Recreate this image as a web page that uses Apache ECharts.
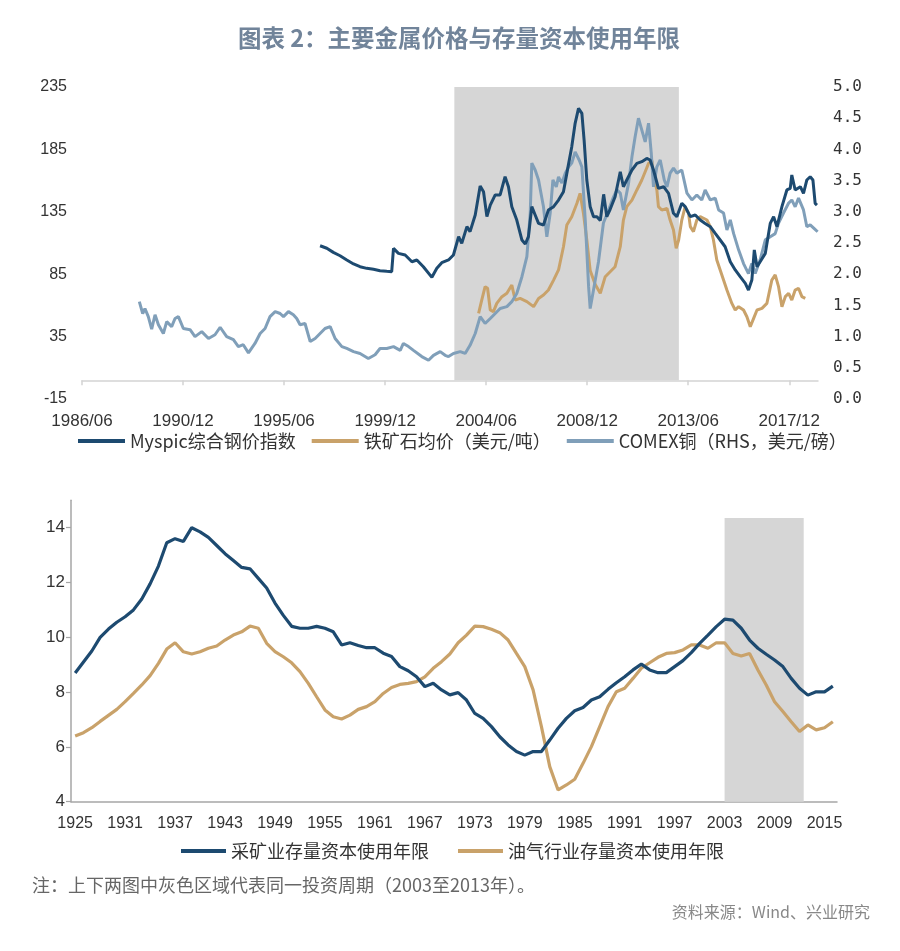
<!DOCTYPE html>
<html><head><meta charset="utf-8">
<script src="https://cdn.jsdelivr.net/npm/echarts@6/dist/echarts.min.js"></script>
<style>html,body{margin:0;padding:0;background:#fff}#c{width:900px;height:951px}</style>
</head><body><div id="c"></div>
<script>
// ---------- top chart data ----------
const topTickLabels = ['1986/06','1990/12','1995/06','1999/12','2004/06','2008/12','2013/06','2017/12'];
const topRange = ['1986/06', '2019/03'];
const leftTickValues = [-15, 35, 85, 135, 185, 235];
const rightTickValues = [0, 0.5, 1, 1.5, 2, 2.5, 3, 3.5, 4, 4.5, 5];
const topShade = ['2003/01', '2013/01'];
const topNames = ['Myspic综合钢价指数', '铁矿石均价（美元/吨）', 'COMEX铜（RHS，美元/磅）'];

const myspicYears = [1997.02,1997.32,1997.61,1997.91,1998.21,1998.51,1998.80,1999.10,1999.40,1999.69,1999.99,2000.21,2000.29,2000.51,2000.81,2001.11,2001.33,2001.62,2002.00,2002.22,2002.44,2002.74,2002.96,2003.19,2003.33,2003.56,2003.70,2003.93,2004.15,2004.30,2004.45,2004.60,2004.82,2005.04,2005.26,2005.41,2005.56,2005.78,2006.01,2006.16,2006.30,2006.45,2006.60,2006.75,2006.97,2007.19,2007.42,2007.64,2007.86,2008.01,2008.23,2008.38,2008.53,2008.68,2008.78,2008.90,2009.05,2009.20,2009.35,2009.50,2009.65,2009.79,2009.94,2010.16,2010.39,2010.53,2010.68,2010.91,2011.13,2011.35,2011.57,2011.72,2011.87,2012.09,2012.32,2012.54,2012.76,2012.91,2013.13,2013.28,2013.51,2013.73,2013.95,2014.17,2014.40,2014.62,2014.84,2015.06,2015.29,2015.51,2015.73,2015.96,2016.10,2016.25,2016.36,2016.48,2016.62,2016.85,2017.07,2017.22,2017.37,2017.59,2017.81,2017.96,2018.03,2018.18,2018.41,2018.55,2018.70,2018.85,2018.97,2019.07,2019.15];
const myspicValues = [107.8,105.8,102.5,99.8,96.4,93.2,91.0,89.7,88.9,87.8,87.3,87.0,105.7,101.7,100.4,95.0,96.4,91.0,82.5,89.7,94.2,96.4,100.4,115.1,109.7,123.1,119.1,132.4,155.7,151.1,131.1,140.4,148.5,148.5,163.1,155.1,139.1,128.4,112.4,109.2,115.1,139.1,132.4,125.7,124.4,136.4,139.1,144.4,151.1,165.8,187.2,205.9,217.9,213.9,192.5,160.5,139.1,131,131,128,149,131.1,137,147.1,167.1,155.1,160.5,168.5,173.8,175.2,177.8,176.5,168.5,153.8,155.1,149.8,133.8,131.1,141.8,139.1,131.1,132.4,128.4,125.7,123.1,117.7,112.4,107.0,95.0,88.4,83.0,77.7,72.3,80.3,104.4,91.0,95.0,101.7,125.7,131.1,123.1,139.1,152.5,153.8,164.5,152.5,155.1,149.8,160.5,163.1,160.5,141.8,140.4];

const ironYears = [2004.08,2004.22,2004.37,2004.48,2004.60,2004.74,2004.89,2005.12,2005.34,2005.56,2005.71,2005.93,2006.23,2006.53,2006.75,2006.97,2007.19,2007.42,2007.64,2007.86,2008.01,2008.23,2008.46,2008.60,2008.75,2008.90,2009.05,2009.27,2009.50,2009.72,2009.94,2010.16,2010.39,2010.53,2010.68,2010.91,2011.13,2011.35,2011.50,2011.65,2011.80,2011.87,2012.02,2012.09,2012.24,2012.47,2012.61,2012.76,2012.88,2012.99,2013.13,2013.28,2013.43,2013.51,2013.65,2013.80,2013.95,2014.10,2014.25,2014.40,2014.54,2014.69,2014.84,2014.99,2015.14,2015.36,2015.51,2015.66,2015.88,2016.03,2016.18,2016.33,2016.48,2016.70,2016.92,2017.14,2017.29,2017.44,2017.59,2017.74,2017.89,2018.03,2018.18,2018.33,2018.48,2018.63];
const ironValues = [53.6,64.3,75.0,73.7,56.3,55.0,61.6,67.0,69.7,76.3,64.3,65.6,63.0,59.0,65.6,68.3,72.3,80.3,88.4,107.0,124.4,131.1,141.8,149.8,133.8,112.4,88,77,69.7,83.0,87.0,91.0,107.0,128.4,139.1,144.4,152.5,160.5,167.1,173.8,176,163.1,152.5,139.1,136.4,137.8,128.4,120.4,105.7,112.4,128.4,139.1,133.8,123.1,119.1,128.4,131.1,129.8,128.4,123.1,112.4,96.4,88.4,80.3,72.3,61.6,56.3,59.0,56.3,50.9,42.9,49.6,56.3,57.6,61.6,80.3,84.4,75.0,59.0,67.0,69.7,64.3,72.3,73.7,67.0,65.6];

const copperYears = [1988.97,1989.12,1989.22,1989.37,1989.52,1989.67,1989.82,1990.04,1990.19,1990.41,1990.56,1990.71,1990.93,1991.23,1991.45,1991.75,1992.05,1992.34,1992.57,1992.86,1993.16,1993.38,1993.60,1993.83,1994.12,1994.35,1994.57,1994.79,1995.02,1995.24,1995.39,1995.61,1995.83,1995.98,1996.13,1996.35,1996.58,1996.80,1997.02,1997.24,1997.47,1997.69,1997.99,1998.21,1998.51,1998.80,1999.17,1999.47,1999.69,1999.99,2000.29,2000.59,2000.73,2000.96,2001.18,2001.55,2001.85,2002.07,2002.37,2002.59,2002.74,2002.96,2003.26,2003.48,2003.70,2003.93,2004.15,2004.37,2004.60,2004.82,2005.04,2005.34,2005.56,2005.78,2006.01,2006.23,2006.38,2006.45,2006.60,2006.75,2006.97,2007.12,2007.27,2007.39,2007.54,2007.64,2007.79,2007.94,2008.09,2008.23,2008.38,2008.56,2008.68,2008.83,2008.98,2009.05,2009.20,2009.42,2009.64,2009.87,2010.09,2010.24,2010.39,2010.53,2010.76,2010.91,2011.05,2011.20,2011.35,2011.50,2011.65,2011.77,2011.87,2012.02,2012.17,2012.35,2012.47,2012.61,2012.76,2012.91,2013.13,2013.36,2013.58,2013.80,2014.02,2014.17,2014.40,2014.62,2014.77,2014.99,2015.14,2015.29,2015.44,2015.66,2015.88,2016.10,2016.25,2016.40,2016.62,2016.85,2017.07,2017.29,2017.44,2017.66,2017.89,2018.03,2018.18,2018.33,2018.55,2018.70,2018.85,2019.03,2019.18];
const copperValues = [1.56,1.37,1.45,1.32,1.12,1.35,1.19,1.05,1.24,1.16,1.29,1.32,1.13,1.11,1.00,1.08,0.97,1.03,1.15,1.00,0.95,0.84,0.87,0.74,0.89,1.05,1.13,1.32,1.40,1.37,1.32,1.40,1.35,1.29,1.19,1.21,0.92,0.97,1.05,1.13,1.16,0.97,0.84,0.81,0.76,0.73,0.65,0.71,0.81,0.81,0.84,0.78,0.89,0.84,0.78,0.68,0.62,0.70,0.76,0.70,0.68,0.73,0.76,0.73,0.86,1.05,1.32,1.21,1.29,1.37,1.45,1.48,1.56,1.69,1.96,2.28,2.98,3.78,3.67,3.51,3.08,2.60,2.98,3.51,3.40,3.56,3.46,3.62,3.72,3.78,3.96,3.83,3.72,2.87,1.80,1.45,1.75,2.20,2.82,3.03,3.24,3.35,3.30,3.03,3.46,3.88,4.20,4.50,4.31,4.12,4.42,3.94,3.40,3.72,3.83,3.51,3.40,3.62,3.70,3.62,3.67,3.30,3.19,3.27,3.19,3.35,3.19,3.22,3.03,2.98,2.71,2.87,2.65,2.39,2.17,2.01,2.17,2.01,2.23,2.55,2.60,2.65,2.82,2.98,3.14,3.19,3.08,3.22,3.03,2.76,2.79,2.73,2.68];

// ---------- bottom chart data ----------
const bottomFirstYear = 1925, bottomLastYear = 2016;
const bottomTickValues = [4, 6, 8, 10, 12, 14];
const bottomShade = [2003, 2013];
const bottomNames = ['采矿业存量资本使用年限', '油气行业存量资本使用年限'];
const miningValues = [8.7,9.1,9.5,10.0,10.3,10.55,10.75,11.0,11.4,11.95,
  12.6,13.45,13.6,13.5,14.0,13.85,13.65,13.35,13.05,12.8,
  12.55,12.5,12.15,11.8,11.25,10.8,10.4,10.33,10.33,10.4,
  10.33,10.2,9.72,9.8,9.7,9.62,9.62,9.42,9.3,8.93,
  8.78,8.56,8.2,8.32,8.08,7.9,7.98,7.71,7.22,7.04,
  6.74,6.37,6.07,5.83,5.7,5.83,5.83,6.25,6.68,7.04,
  7.32,7.44,7.71,7.83,8.1,8.34,8.56,8.81,9.02,8.81,
  8.71,8.71,8.93,9.15,9.44,9.78,10.08,10.39,10.66,10.63,
  10.33,9.9,9.6,9.38,9.17,8.93,8.5,8.14,7.89,8.01,
  8.01,8.22];
const oilValues = [6.4,6.52,6.7,6.93,7.15,7.37,7.65,7.95,8.26,8.6,
  9.05,9.57,9.8,9.47,9.39,9.47,9.6,9.68,9.9,10.08,
  10.2,10.41,10.33,9.78,9.48,9.29,9.07,8.75,8.32,7.83,
  7.35,7.1,7.02,7.16,7.37,7.47,7.65,7.95,8.17,8.28,
  8.32,8.38,8.56,8.87,9.11,9.39,9.8,10.08,10.41,10.39,
  10.29,10.17,9.9,9.41,8.93,8.08,6.74,5.28,4.43,4.61,
  4.82,5.4,6.01,6.74,7.47,8.01,8.14,8.5,8.87,9.07,
  9.27,9.41,9.44,9.54,9.72,9.72,9.6,9.8,9.8,9.41,
  9.32,9.41,8.81,8.26,7.65,7.29,6.92,6.56,6.8,6.62,
  6.7,6.92];

// ---------- build ----------
function ym(s) { const p = s.split('/'); return +p[0] + (+p[1] - 1) / 12; }
const topTickPos = topTickLabels.map(ym);
const bottomYears = [];
for (let y = bottomFirstYear; y <= bottomLastYear; y++) bottomYears.push(String(y));
const zip = (xs, ys) => xs.map((x, i) => [x, ys[i]]);

const COL_NAVY = '#1d4a70', COL_TAN = '#c9a26a', COL_STEEL = '#809fb9';
const numFont = '"Liberation Sans", Arial, sans-serif';
const cjkFont = '"Noto Sans CJK SC", sans-serif';
const axisGrey = '#d4d4d4';

const chart = echarts.init(document.getElementById('c'), null, { renderer: 'canvas' });
chart.setOption({
  animation: false,
  backgroundColor: '#fff',
  grid: [
    { left: 82, top: 87, width: 736, height: 312 },
    { left: 71, top: 500.3, width: 766, height: 301.4 }
  ],
  xAxis: [
    { type: 'value', gridIndex: 0, min: ym(topRange[0]), max: ym(topRange[1]) + 0.03,
      axisLine: { show: true, onZero: true, onZeroAxisIndex: 0, lineStyle: { color: axisGrey, width: 1.5 } },
      axisTick: { show: true, customValues: topTickPos, length: 5, lineStyle: { color: axisGrey, width: 1.5 } },
      axisLabel: { customValues: topTickPos, margin: 14, fontSize: 17, fontFamily: numFont, color: '#333',
        formatter: v => { const i = topTickPos.findIndex(p => Math.abs(p - v) < 1e-4); return i >= 0 ? topTickLabels[i] : ''; } },
      splitLine: { show: false } },
    { type: 'category', gridIndex: 1, data: bottomYears, boundaryGap: true,
      axisLine: { lineStyle: { color: '#a6a6a6', width: 1.5 } },
      axisTick: { interval: 0, length: 6, lineStyle: { color: '#a6a6a6', width: 1.2 } },
      axisLabel: { interval: 5, margin: 14, fontSize: 16, fontFamily: numFont, color: '#333' } },
    { type: 'value', gridIndex: 1, min: 0, max: bottomYears.length, show: false }
  ],
  yAxis: [
    { type: 'value', gridIndex: 0, min: leftTickValues[0], max: leftTickValues[leftTickValues.length - 1],
      axisLine: { show: false }, axisTick: { show: false }, splitLine: { show: false },
      axisLabel: { customValues: leftTickValues, margin: 15, fontSize: 16, fontFamily: numFont, color: '#333' } },
    { type: 'value', gridIndex: 0, position: 'right', min: 0, max: 5,
      axisLine: { show: false }, axisTick: { show: false }, splitLine: { show: false },
      axisLabel: { customValues: rightTickValues, margin: 15, fontSize: 16, fontFamily: '"DejaVu Sans Mono", monospace', color: '#333',
        formatter: v => v.toFixed(1) } },
    { type: 'value', gridIndex: 1, min: 4, max: 15,
      axisLine: { show: true, lineStyle: { color: '#a6a6a6', width: 1.5 } },
      axisTick: { show: true, customValues: bottomTickValues, length: 5, lineStyle: { color: '#a6a6a6', width: 1.2 } },
      splitLine: { show: false },
      axisLabel: { customValues: bottomTickValues, margin: 6, fontSize: 17, fontFamily: numFont, color: '#333' } }
  ],
  legend: [
    { data: topNames, left: 73, top: 427, icon: 'rect', itemWidth: 47, itemHeight: 4, itemGap: 16,
      textStyle: { fontSize: 18, fontFamily: cjkFont, color: '#333' } },
    { data: bottomNames, left: 176, top: 837, icon: 'rect', itemWidth: 45, itemHeight: 4, itemGap: 29,
      textStyle: { fontSize: 18, fontFamily: cjkFont, color: '#333' } }
  ],
  series: [
    { type: 'line', name: 'shadeTop', xAxisIndex: 0, yAxisIndex: 0, data: [], z: 1, silent: true,
      markArea: { silent: true, itemStyle: { color: '#d6d6d6' },
        data: [[{ coord: [ym(topShade[0]), 0] }, { coord: [ym(topShade[1]), leftTickValues[leftTickValues.length - 1]] }]] } },
    { type: 'line', name: topNames[1], xAxisIndex: 0, yAxisIndex: 0, data: zip(ironYears, ironValues), z: 3,
      showSymbol: false, symbol: 'none', color: COL_TAN, lineStyle: { width: 3, color: COL_TAN } },
    { type: 'line', name: topNames[2], xAxisIndex: 0, yAxisIndex: 1, data: zip(copperYears, copperValues), z: 4,
      showSymbol: false, symbol: 'none', color: COL_STEEL, lineStyle: { width: 3, color: COL_STEEL } },
    { type: 'line', name: topNames[0], xAxisIndex: 0, yAxisIndex: 0, data: zip(myspicYears, myspicValues), z: 5,
      showSymbol: false, symbol: 'none', color: COL_NAVY, lineStyle: { width: 3, color: COL_NAVY } },
    { type: 'line', name: 'shadeBottom', xAxisIndex: 2, yAxisIndex: 2, data: [], z: 1, silent: true,
      markArea: { silent: true, itemStyle: { color: '#d6d6d6' },
        data: [[{ coord: [bottomShade[0] - bottomFirstYear + 0.5, 4] }, { coord: [bottomShade[1] - bottomFirstYear, 14.35] }]] } },
    { type: 'line', name: bottomNames[1], xAxisIndex: 1, yAxisIndex: 2, data: oilValues, z: 3,
      showSymbol: false, symbol: 'none', color: COL_TAN, lineStyle: { width: 3.2, color: COL_TAN } },
    { type: 'line', name: bottomNames[0], xAxisIndex: 1, yAxisIndex: 2, data: miningValues, z: 4,
      showSymbol: false, symbol: 'none', color: COL_NAVY, lineStyle: { width: 3.2, color: COL_NAVY } }
  ],
  graphic: [
    { type: 'text', x: 459, y: 38, style: { text: '图表 2：主要金属价格与存量资本使用年限', align: 'center', verticalAlign: 'middle',
        font: 'bold 23.5px "Noto Sans CJK SC", sans-serif', fill: '#71849a' } },
    { type: 'text', x: 32, y: 885, style: { text: '注：上下两图中灰色区域代表同一投资周期（2003至2013年）。', align: 'left', verticalAlign: 'middle',
        font: '18px "Noto Sans CJK SC", sans-serif', fill: '#666' } },
    { type: 'text', x: 870, y: 912, style: { text: '资料来源：Wind、兴业研究', align: 'right', verticalAlign: 'middle',
        font: '16px "Noto Sans CJK SC", sans-serif', fill: '#888' } }
  ]
});
</script>
</body></html>
